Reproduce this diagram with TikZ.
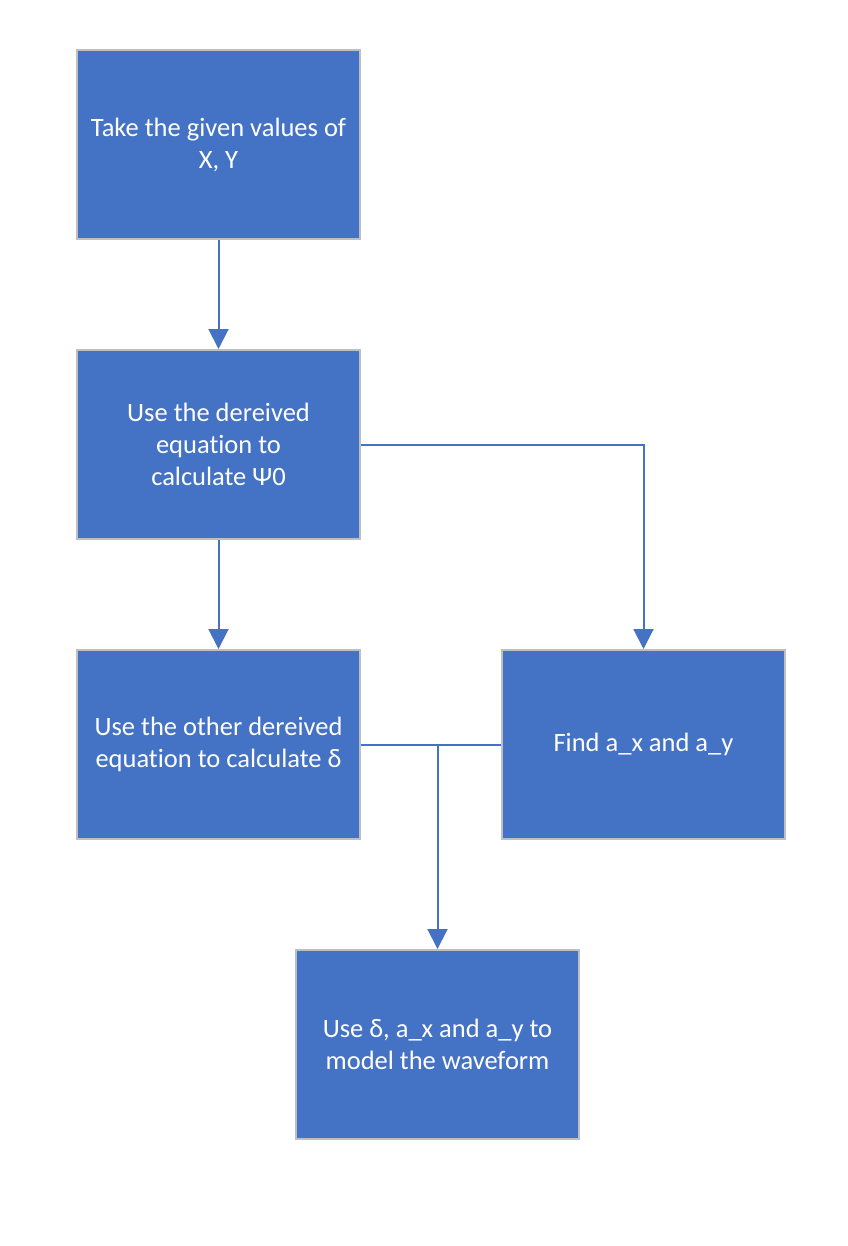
\documentclass[tikz,border=0pt]{standalone}
\usepackage{fontspec}
\setmainfont{Carlito}[Ligatures=NoCommon]
\usetikzlibrary{arrows.meta}
\definecolor{boxblue}{HTML}{4472C4}
\definecolor{boxedge}{HTML}{BFBFBF}
\begin{document}
\begin{tikzpicture}[x=1pt,y=-1pt,line width=2pt,
  stepbox/.style={draw=boxedge,fill=boxblue,text=white,minimum width=283pt,minimum height=189pt,align=center,inner sep=0pt,font=\fontsize{26.5}{32}\selectfont},
  link/.style={draw=boxblue,line width=2pt},
  flow/.style={link,-{Triangle[width=20pt,length=20pt]}}]
\path[use as bounding box] (0,0) rectangle (847,1246);
\node[stepbox] (take) at (218.5,144.5) {Take the given values of\\X, Y};
\node[stepbox] (psi) at (218.5,444.5) {Use the dereived\\equation to\\calculate Ψ0};
\node[stepbox] (delta) at (218.5,744.5) {Use the other dereived\\equation to calculate δ};
\node[stepbox] (axay) at (643.5,744.5) {Find a\_x and a\_y};
\node[stepbox] (model) at (437.5,1044.5) {Use δ, a\_x and a\_y to\\model the waveform};
\coordinate (split) at (delta.east -| model.north);
\draw[flow] (take) -- (psi);
\draw[flow] (psi) -- (delta);
\draw[flow] (psi.east) -| (axay.north);
\draw[link] (delta.east) -- (axay.west);
\draw[flow] (split) -- (model.north);
\end{tikzpicture}
\end{document}
